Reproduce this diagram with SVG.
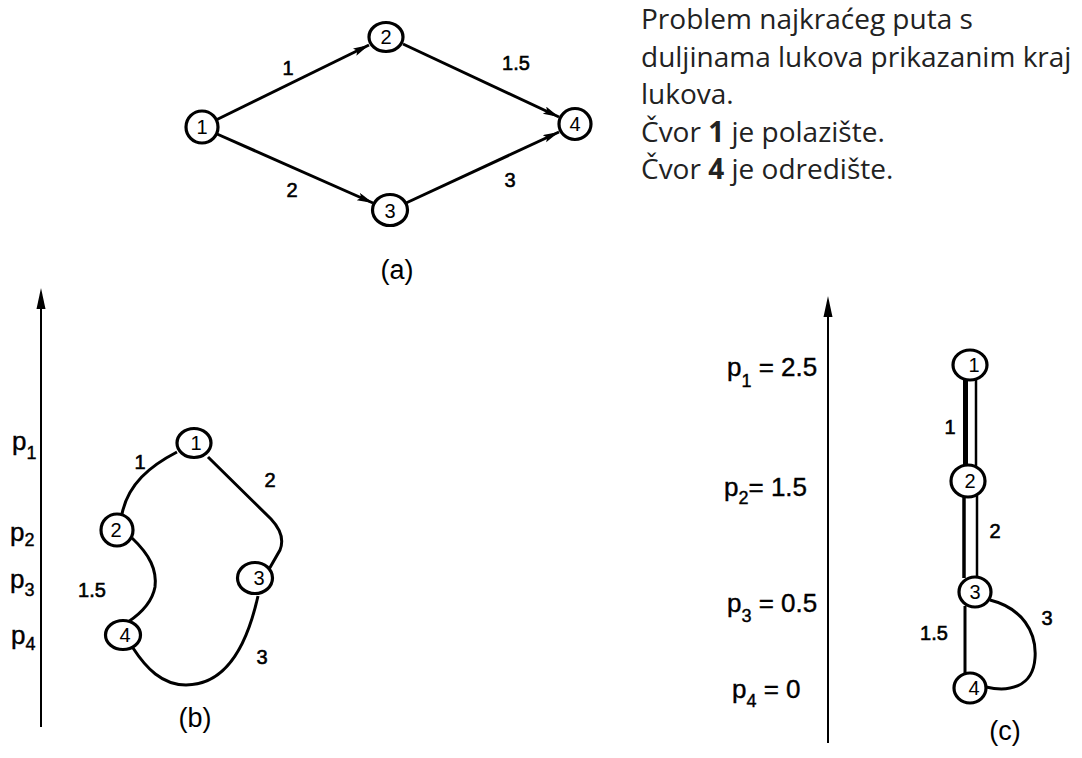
<svg xmlns="http://www.w3.org/2000/svg" width="1082" height="758" viewBox="0 0 1082 758">
<defs>
<marker id="arr" markerUnits="userSpaceOnUse" markerWidth="18" markerHeight="10" refX="16" refY="4" orient="auto">
<path d="M0,0 L16,4 L0,8 L3,4 z" fill="#000"/>
</marker>
</defs>
<style>
.node{fill:#fff;stroke:#000;stroke-width:3.2}
.nl{font-family:"Liberation Sans",Arial,sans-serif;font-size:20px;text-anchor:middle;fill:#000}
.el{font-family:"Liberation Sans",Arial,sans-serif;font-size:20px;text-anchor:middle;fill:#000;stroke:#000;stroke-width:0.6}
.edge{fill:none;stroke:#000;stroke-width:3}
.axis{fill:none;stroke:#000;stroke-width:2}
.cap{font-family:"Liberation Sans",Arial,sans-serif;font-size:27px;text-anchor:middle;fill:#000}
.pl{font-family:"Liberation Sans",Arial,sans-serif;font-size:26px;fill:#000;stroke:#000;stroke-width:0.4}
.ps{font-size:18px}
.desc{font-family:"Open Sans","Noto Sans",sans-serif;font-size:28px;fill:#222}
</style>
<rect width="1082" height="758" fill="#fff"/>

<!-- connectors -->
<g id="connectors">
<!-- (a) -->
<line class="edge" x1="216" y1="120" x2="369" y2="45" marker-end="url(#arr)"/>
<line class="edge" x1="403" y1="44" x2="559" y2="117" marker-end="url(#arr)"/>
<line class="edge" x1="217" y1="134" x2="373" y2="203" marker-end="url(#arr)"/>
<line class="edge" x1="406" y1="203" x2="559" y2="132" marker-end="url(#arr)"/>
<!-- (b) -->
<path class="edge" d="M177,452 C150,466 128,484 122,514"/>
<path class="edge" d="M208,457 L271,519 Q286,535 280,550 L268,571"/>
<path class="edge" d="M132,538 C150,555 157,570 155,587 C152,603 140,614 128,622"/>
<path class="edge" d="M258,596 C246,650 224,685 186,685 C162,685 146,668 133,648"/>
<!-- (c) -->
<line x1="965.5" y1="378" x2="965.5" y2="466" stroke="#000" stroke-width="5"/>
<line x1="976" y1="380" x2="976" y2="466" stroke="#000" stroke-width="2.5"/>
<line x1="964" y1="496" x2="964" y2="578" stroke="#000" stroke-width="3.5"/>
<line x1="977" y1="496" x2="977" y2="578" stroke="#000" stroke-width="2.5"/>
<line x1="965" y1="606" x2="965" y2="674" stroke="#000" stroke-width="3"/>
<path class="edge" d="M990,600 C1022,608 1037,632 1035,658 C1033,688 1008,692 986,687"/>
</g>

<!-- axes -->
<g id="axis-b">
<line class="axis" x1="41" y1="296" x2="41" y2="727"/>
<path d="M41,288 L45.5,309 L36.5,309 z" fill="#000"/>
</g>
<g id="axis-c">
<line class="axis" x1="828" y1="305" x2="828" y2="743"/>
<path d="M828,296 L832.5,317 L823.5,317 z" fill="#000"/>
</g>

<!-- (a) nodes -->
<g id="a-node-1"><ellipse class="node" cx="202" cy="127" rx="16" ry="16"/><text class="nl" x="202" y="134">1</text></g>
<g id="a-node-2"><ellipse class="node" cx="386" cy="37" rx="17" ry="14.5"/><text class="nl" x="386" y="44">2</text></g>
<g id="a-node-3"><ellipse class="node" cx="390" cy="210" rx="17.5" ry="15.5"/><text class="nl" x="390" y="218">3</text></g>
<g id="a-node-4"><ellipse class="node" cx="575" cy="124" rx="16" ry="15.5"/><text class="nl" x="575" y="131">4</text></g>
<g id="a-labels">
<text class="el" x="288" y="75">1</text>
<text class="el" x="516" y="70">1.5</text>
<text class="el" x="292" y="197">2</text>
<text class="el" x="510" y="187">3</text>
<text class="cap" x="397" y="279">(a)</text>
</g>

<!-- (b) nodes -->
<g id="b-node-1"><ellipse class="node" cx="194" cy="443" rx="17" ry="14.5"/><text class="nl" x="196" y="450">1</text></g>
<g id="b-node-2"><ellipse class="node" cx="117" cy="530" rx="16" ry="16"/><text class="nl" x="116" y="537">2</text></g>
<g id="b-node-3"><ellipse class="node" cx="255" cy="578" rx="17.5" ry="15.5"/><text class="nl" x="259" y="585">3</text></g>
<g id="b-node-4"><ellipse class="node" cx="123" cy="635" rx="17.5" ry="14.5"/><text class="nl" x="125" y="642">4</text></g>
<g id="b-labels">
<text class="el" x="140" y="469">1</text>
<text class="el" x="270" y="487">2</text>
<text class="el" x="92" y="597" stroke-width="0">1.5</text>
<text class="el" x="262" y="664">3</text>
<text class="cap" x="195" y="727">(b)</text>
<text class="pl" x="12" y="450">p<tspan class="ps" dy="9">1</tspan></text>
<text class="pl" x="10" y="541">p<tspan class="ps" dy="5">2</tspan></text>
<text class="pl" x="10" y="588">p<tspan class="ps" dy="8">3</tspan></text>
<text class="pl" x="11" y="644">p<tspan class="ps" dy="6">4</tspan></text>
</g>

<!-- (c) nodes -->
<g id="c-node-1"><ellipse class="node" cx="970" cy="365" rx="17" ry="15"/><text class="nl" x="974" y="372">1</text></g>
<g id="c-node-2"><ellipse class="node" cx="968" cy="481" rx="17" ry="16"/><text class="nl" x="970" y="488">2</text></g>
<g id="c-node-3"><ellipse class="node" cx="975" cy="592" rx="16" ry="15"/><text class="nl" x="975" y="599">3</text></g>
<g id="c-node-4"><ellipse class="node" cx="970" cy="688" rx="16" ry="15"/><text class="nl" x="974" y="695">4</text></g>
<g id="c-labels">
<text class="el" x="950" y="434">1</text>
<text class="el" x="995" y="538">2</text>
<text class="el" x="934" y="640">1.5</text>
<text class="el" x="1047" y="625">3</text>
<text class="cap" x="1005" y="740">(c)</text>
<text class="pl" x="727" y="376">p<tspan class="ps" dy="11">1</tspan><tspan dy="-11"> = 2.5</tspan></text>
<text class="pl" x="724" y="496">p<tspan class="ps" dy="8">2</tspan><tspan dy="-8">= 1.5</tspan></text>
<text class="pl" x="727" y="612">p<tspan class="ps" dy="10">3</tspan><tspan dy="-10"> = 0.5</tspan></text>
<text class="pl" x="732" y="698">p<tspan class="ps" dy="9">4</tspan><tspan dy="-9"> = 0</tspan></text>
</g>

<!-- description -->
<g id="description">
<text class="desc" x="641" y="29">Problem najkraćeg puta s</text>
<text class="desc" x="641" y="66.5">duljinama lukova prikazanim kraj</text>
<text class="desc" x="641" y="104">lukova.</text>
<text class="desc" x="641" y="141.5">Čvor <tspan font-weight="bold">1</tspan> je polazište.</text>
<text class="desc" x="641" y="179">Čvor <tspan font-weight="bold">4</tspan> je odredište.</text>
</g>
</svg>
